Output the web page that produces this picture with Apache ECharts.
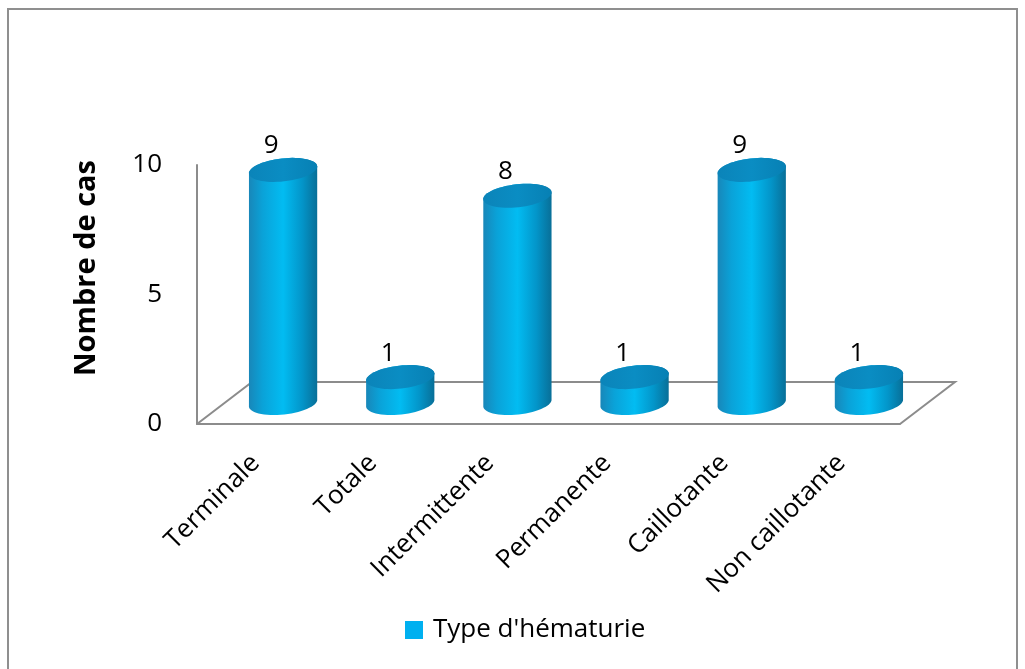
<!DOCTYPE html>
<html>
<head>
<meta charset="utf-8">
<script src="https://cdn.jsdelivr.net/npm/echarts@6/dist/echarts.min.js"></script>
<style>
  html, body { margin: 0; padding: 0; background: #ffffff; }
  #chart { width: 1025px; height: 669px; }
</style>
</head>
<body>
<div id="chart"></div>
<script>
// Hematuria types and number of cases
const categories = ['Terminale', 'Totale', 'Intermittente', 'Permanente', 'Caillotante', 'Non caillotante'];
const cases = [9, 1, 8, 1, 9, 1];
const seriesName = "Type d'hématurie";
const yTicks = { min: 0, max: 10, interval: 5 };

const FONT = 'Open Sans';
const DEPTH_X = 55, DEPTH_Y = -42;   // floor depth offset (back edge relative to front edge)
const TILT = 0.11;                    // slight tilt of the cylinder ellipses

function ellipsePoints(cx, cy, rx, ry, t0, t1, n) {
  const pts = [];
  const c = Math.cos(TILT), s = Math.sin(TILT);
  for (let i = 0; i <= n; i++) {
    const t = t0 + (t1 - t0) * i / n;
    const ex = rx * Math.cos(t), ey = ry * Math.sin(t);
    pts.push([cx + ex * c + ey * s, cy - ex * s + ey * c]);
  }
  return pts;
}

const bodyGradient = new echarts.graphic.LinearGradient(0, 0, 1, 0, [
  { offset: 0, color: '#1887b9' },
  { offset: 0.2, color: '#0aa2d8' },
  { offset: 0.5, color: '#02bcf2' },
  { offset: 0.78, color: '#0395c9' },
  { offset: 1, color: '#086f98' }
]);
const topGradient = new echarts.graphic.LinearGradient(0, 0, 1, 0, [
  { offset: 0, color: '#0b84b9' },
  { offset: 0.5, color: '#0a8dc3' },
  { offset: 1, color: '#0780b4' }
]);

const chart = echarts.init(document.getElementById('chart'), null, { renderer: 'canvas' });

chart.setOption({
  animation: false,
  backgroundColor: '#ffffff',
  grid: { left: 197, top: 165, width: 703, height: 259, containLabel: false },
  legend: {
    data: [seriesName],
    left: 405,
    top: 617,
    padding: 0,
    icon: 'rect',
    itemWidth: 18,
    itemHeight: 18,
    itemGap: 5,
    textStyle: { fontFamily: FONT, fontSize: 26, color: '#000000', padding: [0, 0, 0, 5] }
  },
  xAxis: {
    type: 'category',
    data: categories,
    axisLine: { show: true, lineStyle: { color: '#8c8c8c', width: 2 } },
    axisTick: { show: false },
    axisLabel: {
      rotate: 45,
      margin: 35,
      interval: 0,
      fontFamily: FONT,
      fontSize: 26,
      color: '#000000'
    }
  },
  yAxis: {
    type: 'value',
    min: yTicks.min,
    max: yTicks.max,
    interval: yTicks.interval,
    axisLine: { show: true, lineStyle: { color: '#8c8c8c', width: 2 } },
    axisTick: { show: false },
    splitLine: { show: false },
    axisLabel: { margin: 35, fontFamily: FONT, fontSize: 26, color: '#000000' }
  },
  graphic: [
    {
      type: 'rect',
      shape: { x: 8, y: 9, width: 1009, height: 700 },
      style: { fill: null, stroke: '#8f8f8f', lineWidth: 2 },
      silent: true
    },
    {
      type: 'text',
      x: 87,
      y: 268,
      rotation: Math.PI / 2,
      style: {
        text: 'Nombre de cas',
        font: 'bold 29px "Open Sans"',
        fill: '#000000',
        align: 'center',
        verticalAlign: 'middle'
      },
      silent: true
    }
  ],
  series: [
    {
      // floor of the 3D plot area
      type: 'custom',
      silent: true,
      data: [[0, 0]],
      z: 1,
      legendHoverLink: false,
      renderItem: function (params) {
        const r = params.coordSys;
        const fl = [r.x, r.y + r.height];
        const fr = [r.x + r.width, r.y + r.height];
        const bl = [fl[0] + DEPTH_X, fl[1] + DEPTH_Y];
        const br = [fr[0] + DEPTH_X, fr[1] + DEPTH_Y];
        return {
          type: 'polyline',
          shape: { points: [fl, bl, br, fr] },
          style: { stroke: '#8c8c8c', lineWidth: 2, fill: null }
        };
      }
    },
    {
      name: seriesName,
      type: 'custom',
      z: 3,
      itemStyle: { color: '#00b0f0' },
      data: cases.map((v, i) => [i, v]),
      encode: { x: 0, y: 1 },
      renderItem: function (params, api) {
        const idx = api.value(0);
        const v = api.value(1);
        const band = api.size([1, 0])[0];
        const base = api.coord([idx, 0]);
        const top = api.coord([idx, v]);
        const cx = base[0] + DEPTH_X / 2;
        const by = base[1] + DEPTH_Y / 2;
        const ty = top[1] + DEPTH_Y / 2;
        const rx = band * 0.293;
        const ry = 11.5;
        const body = ellipsePoints(cx, ty, rx, ry, Math.PI, 2 * Math.PI, 30)
          .concat(ellipsePoints(cx, by, rx, ry, 0, Math.PI, 30));
        const cap = ellipsePoints(cx, ty, rx, ry, 0, 2 * Math.PI, 60);
        return {
          type: 'group',
          children: [
            { type: 'polygon', shape: { points: body }, style: { fill: bodyGradient } },
            { type: 'polygon', shape: { points: cap }, style: { fill: topGradient } },
            {
              type: 'text',
              x: cx - 12,
              y: ty - 24,
              style: {
                text: String(v),
                font: '26px "Open Sans"',
                fill: '#000000',
                align: 'center',
                verticalAlign: 'middle'
              }
            }
          ]
        };
      }
    }
  ]
});
</script>
</body>
</html>
